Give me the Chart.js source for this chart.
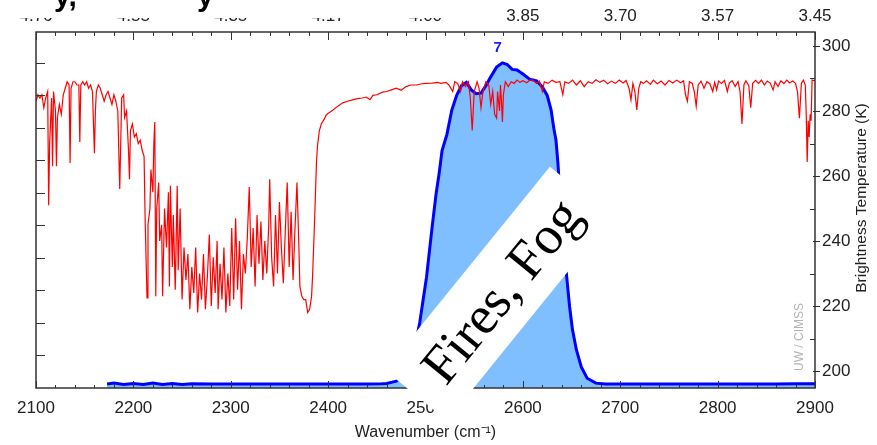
<!DOCTYPE html>
<html>
<head>
<meta charset="utf-8">
<script src="https://cdn.jsdelivr.net/npm/chart.js@4.4.0/dist/chart.umd.min.js"></script>
<style>
    html, body { margin: 0; padding: 0; background: #fff; }
</style>
</head>
<body>
<canvas id="myChart" width="877" height="445"></canvas>
<script>
// wavenumber ticks (bottom) and matching wavelength labels (top, micrometres)
const wavenumberTicks = [2100, 2200, 2300, 2400, 2500, 2600, 2700, 2800, 2900];
const wavelengthLabels = ['4.76', '4.55', '4.35', '4.17', '4.00', '3.85', '3.70', '3.57', '3.45'];
const temperatureTicks = [200, 220, 240, 260, 280, 300];

// brightness temperature spectrum (red)
const tbWavenumber = [
    2100, 2102, 2104, 2106, 2108, 2110, 2112, 2113, 2114, 2116, 2117, 2118, 2120, 2121, 2122, 2124, 2126, 2128, 2130, 2132,
    2134, 2135, 2136, 2138, 2140, 2142, 2144, 2145, 2146, 2148, 2150, 2152, 2154, 2156, 2158, 2160, 2161, 2162, 2164, 2166,
    2168, 2170, 2172, 2174, 2176, 2178, 2180, 2182, 2184, 2186, 2187, 2188, 2190, 2191, 2193, 2195, 2196, 2197, 2199, 2201,
    2203, 2205, 2207, 2209, 2211, 2212, 2213, 2214, 2215, 2217, 2218, 2220, 2221, 2222, 2223, 2224, 2226, 2227, 2229, 2230,
    2232, 2234, 2236, 2237, 2238, 2240, 2241, 2243, 2245, 2246, 2248, 2250, 2252, 2254, 2256, 2258, 2260, 2262, 2264, 2266,
    2268, 2270, 2272, 2274, 2276, 2278, 2280, 2282, 2284, 2286, 2287, 2289, 2291, 2293, 2295, 2297, 2299, 2301, 2303, 2305,
    2307, 2309, 2311, 2313, 2315, 2317, 2319, 2321, 2323, 2325, 2327, 2329, 2331, 2333, 2335, 2337, 2339, 2340, 2342, 2344,
    2346, 2348, 2350, 2352, 2354, 2356, 2358, 2360, 2362, 2364, 2366, 2368, 2370, 2371, 2373, 2375, 2377, 2379, 2381, 2383,
    2384, 2386, 2388, 2389, 2391, 2393, 2396, 2398, 2401, 2405, 2410, 2415, 2420, 2425, 2430, 2435, 2439, 2443, 2446, 2450,
    2456, 2460, 2465, 2470, 2475, 2480, 2485, 2491, 2495, 2500, 2507, 2512, 2516, 2521, 2524, 2528, 2530, 2533, 2536, 2538,
    2541, 2544, 2546, 2548, 2550, 2553, 2555, 2557, 2559, 2562, 2565, 2567, 2569, 2571, 2573, 2574, 2576, 2577, 2578, 2579,
    2580, 2582, 2585, 2588, 2591, 2594, 2597, 2600, 2604, 2607, 2610, 2614, 2617, 2620, 2622, 2626, 2630, 2634, 2638, 2641,
    2643, 2647, 2651, 2655, 2659, 2663, 2667, 2671, 2675, 2679, 2683, 2687, 2691, 2695, 2699, 2703, 2706, 2709, 2711, 2713,
    2715, 2717, 2719, 2721, 2724, 2727, 2731, 2734, 2738, 2742, 2746, 2750, 2754, 2758, 2762, 2765, 2767, 2769, 2771, 2774,
    2776, 2778, 2780, 2783, 2786, 2789, 2792, 2795, 2797, 2799, 2801, 2804, 2807, 2810, 2812, 2815, 2818, 2821, 2823, 2825,
    2827, 2829, 2832, 2834, 2836, 2839, 2842, 2845, 2848, 2851, 2854, 2857, 2859, 2862, 2865, 2868, 2871, 2874, 2877, 2880,
    2882, 2884, 2886, 2888, 2890, 2891, 2892, 2893, 2894, 2895, 2896, 2897, 2900
];
const tbKelvin = [
    283, 285, 284, 285, 281, 284, 286, 251, 270, 284, 263, 286, 280, 263, 278, 282, 279, 285, 287, 289,
    288, 264, 287, 289, 289, 288, 288, 270.5, 288, 289, 288, 289, 287, 288, 286, 267, 280, 286, 288, 287,
    285, 283, 285, 286, 284, 282, 285, 283, 280, 256, 270, 284, 285, 278, 280, 268, 259, 274, 276, 272,
    273, 270, 271, 268, 266, 248, 235, 222.5, 245, 250, 262, 255, 270, 276.6, 223, 250, 258, 240, 245, 223,
    250, 238, 255, 226, 257, 232, 248, 225, 257, 231, 250, 222, 238, 228, 236, 219, 232, 224, 238, 218,
    230, 222, 236, 219, 229, 242, 220, 235, 224, 240, 219, 233, 222, 238, 218, 230, 220, 244, 222, 247,
    225, 240, 219, 236, 230, 241, 256.6, 232, 244, 226, 248, 233, 246, 228, 240, 230, 245, 259, 235, 226,
    248, 230, 252, 238, 227, 243, 258, 232, 249, 228, 244, 258, 238, 226, 223, 222, 222, 218, 219, 223,
    229, 245.5, 264, 269, 274, 276, 277.5, 278.8, 279.5, 280.3, 281.5, 282.5, 283, 283.4, 283.8, 284, 284.3, 283.5, 284.8, 285,
    285.8, 286, 286.5, 287, 286.4, 287.5, 288, 288, 288.3, 288.5, 288.6, 288.8, 288.5, 288.8, 288, 286, 289, 288.5, 286, 289,
    287.5, 289, 284, 274, 286, 289, 287, 281, 286, 289, 288, 282, 286, 279, 277.8, 286, 280, 288, 283, 276.6,
    285, 289, 287.5, 289, 288.5, 289.5, 288.8, 289.3, 288.7, 289.5, 289.5, 288.5, 289.2, 286, 289, 288.5, 289.5, 288.8, 289, 285,
    289, 288.5, 289.5, 288, 289.3, 287.5, 289, 288.5, 289.6, 288.8, 289.5, 288.4, 289.2, 288.5, 289.5, 288.6, 289.4, 287, 283.4, 288.5,
    286, 280.3, 287, 289, 288.5, 289.3, 288.2, 289.5, 288.4, 289.2, 288, 289.4, 288.6, 289.5, 288.7, 289.3, 285, 283, 289, 288.5,
    286, 281.5, 288, 289.2, 287, 289, 288.4, 286, 288.8, 286.5, 289.2, 288.5, 289.4, 286, 288.6, 289.3, 287.5, 289, 286, 276,
    288, 289.3, 287.8, 281, 288.5, 289.4, 288.5, 289.5, 288, 289.2, 288.6, 286.5, 289, 287.5, 289.3, 288.4, 289.5, 288.6, 289.2, 288.5,
    286, 277.8, 288.5, 289.5, 288, 279, 264.3, 277, 272, 279, 277, 289.5, 289.3
];

// band 7 spectral response function (blue, relative)
const srfWavenumber = [
    2173, 2180, 2190, 2200, 2210, 2220, 2230, 2240, 2250, 2260, 2280, 2300, 2320, 2340, 2360, 2380, 2400, 2420, 2440, 2455,
    2460, 2466, 2470, 2474, 2476, 2480, 2485, 2490, 2494, 2497, 2501, 2504, 2507, 2511, 2514, 2517, 2522, 2527, 2532, 2537,
    2542, 2547, 2552, 2557, 2562, 2567, 2573, 2579, 2584, 2589, 2594, 2600, 2607, 2614, 2620, 2625, 2629, 2632, 2634, 2636,
    2640, 2645, 2648, 2651, 2655, 2660, 2666, 2675, 2685, 2700, 2720, 2740, 2760, 2780, 2800, 2820, 2840, 2860, 2880, 2900
];
const srfResponse = [
    0.012, 0.015, 0.011, 0.014, 0.011, 0.015, 0.011, 0.014, 0.011, 0.013, 0.012, 0.012, 0.012, 0.012, 0.012, 0.012, 0.012, 0.012, 0.012, 0.013,
    0.014, 0.018, 0.021, 0.03, 0.034, 0.05, 0.09, 0.14, 0.2, 0.26, 0.34, 0.42, 0.5, 0.6, 0.66, 0.73, 0.78, 0.855, 0.9, 0.93,
    0.94, 0.917, 0.905, 0.907, 0.93, 0.957, 0.987, 1.0, 0.995, 0.98, 0.978, 0.966, 0.95, 0.945, 0.926, 0.9, 0.855, 0.794, 0.763, 0.692,
    0.5, 0.342, 0.25, 0.178, 0.117, 0.065, 0.03, 0.015, 0.012, 0.012, 0.012, 0.012, 0.012, 0.012, 0.012, 0.012, 0.012, 0.012, 0.013, 0.013
];

const FONT = '"Liberation Sans", Arial, sans-serif';

const decorations = {
    id: 'decorations',
    afterDraw(chart) {
        const ctx = chart.ctx;
        const xs = chart.scales.x;
        const ys = chart.scales.y;
        const yt = chart.scales.yT;
        const { left, right, top, bottom } = chart.chartArea;

        ctx.save();
        ctx.strokeStyle = '#333';
        ctx.lineWidth = 1;
        ctx.beginPath();
        // wavenumber ticks, inward on top and bottom
        for (let w = 2100; w <= 2900; w += 20) {
            const px = Math.round(xs.getPixelForValue(w)) + 0.5;
            const major = w % 100 === 0;
            ctx.moveTo(px, bottom); ctx.lineTo(px, bottom - (major ? 7 : 3));
            ctx.moveTo(px, top); ctx.lineTo(px, top + (major ? 8 : 4));
        }
        // response ticks on the left
        for (let r = 0.1; r <= 1.01; r += 0.1) {
            const py = Math.round(ys.getPixelForValue(r)) + 0.5;
            ctx.moveTo(left, py); ctx.lineTo(left + 9, py);
        }
        // temperature ticks on the right
        for (let t = 200; t <= 300; t += 10) {
            const py = Math.round(yt.getPixelForValue(t)) + 0.5;
            if (t % 20 === 0) { ctx.moveTo(right - 2, py); ctx.lineTo(right + 5, py); }
            else { ctx.moveTo(right - 5, py); ctx.lineTo(right, py); }
        }
        ctx.stroke();

        // frame
        ctx.lineWidth = 1.5;
        ctx.strokeRect(left, top, right - left, bottom - top);

        // channel number over the peak
        ctx.fillStyle = '#1a1aff';
        ctx.font = 'bold 15px ' + FONT;
        ctx.textAlign = 'center';
        ctx.textBaseline = 'middle';
        ctx.fillText('7', xs.getPixelForValue(2574), yt.getPixelForValue(299.4));

        // diagonal label band
        ctx.save();
        ctx.translate(xs.getPixelForValue(2575), yt.getPixelForValue(223.8));
        ctx.rotate(-51 * Math.PI / 180);
        ctx.fillStyle = '#fff';
        ctx.fillRect(-131, -40, 262, 80);
        ctx.fillStyle = '#000';
        ctx.font = '54px "Liberation Serif", "Times New Roman", serif';
        ctx.textAlign = 'center';
        ctx.textBaseline = 'alphabetic';
        ctx.fillText('Fires, Fog', 4, 18);
        ctx.restore();

        // credit
        ctx.save();
        ctx.translate(800, 337);
        ctx.rotate(-Math.PI / 2);
        ctx.fillStyle = '#b4b4b4';
        ctx.font = '12px ' + FONT;
        ctx.textAlign = 'center';
        ctx.textBaseline = 'middle';
        ctx.fillText('UW / CIMSS', 0, 0);
        ctx.restore();

        // right axis title, reading upward
        ctx.save();
        ctx.translate(862, 198);
        ctx.rotate(-Math.PI / 2);
        ctx.fillStyle = '#222';
        ctx.font = '15.5px ' + FONT;
        ctx.textAlign = 'center';
        ctx.textBaseline = 'middle';
        ctx.fillText('Brightness Temperature (K)', 0, 0);
        ctx.restore();

        // cropped title strip at the very top
        ctx.fillStyle = '#fff';
        ctx.fillRect(0, 0, 480, 18);
        ctx.fillStyle = '#000';
        ctx.font = 'bold 30px ' + FONT;
        ctx.textAlign = 'left';
        ctx.textBaseline = 'alphabetic';
        ctx.fillText('y,', 54, 6);
        ctx.fillText('y', 197, 6);
        ctx.restore();
    }
};

const ctx = document.getElementById('myChart').getContext('2d');
const myChart = new Chart(ctx, {
    type: 'line',
    data: {
        datasets: [
            {
                label: 'Brightness temperature',
                data: tbWavenumber.map((w, i) => ({ x: w, y: tbKelvin[i] })),
                yAxisID: 'yT',
                borderColor: '#ff0000',
                borderWidth: 1.2,
                pointRadius: 0,
                tension: 0,
                fill: false,
                order: 0
            },
            {
                label: 'Band 7 SRF',
                data: srfWavenumber.map((w, i) => ({ x: w, y: srfResponse[i] })),
                yAxisID: 'y',
                borderColor: '#0000ff',
                backgroundColor: '#80bfff',
                borderWidth: 3,
                pointRadius: 0,
                tension: 0,
                fill: 'origin',
                order: 1
            }
        ]
    },
    options: {
        responsive: false,
        animation: false,
        events: [],
        layout: { padding: 0 },
        plugins: {
            legend: { display: false },
            tooltip: { enabled: false }
        },
        scales: {
            x: {
                type: 'linear',
                position: 'bottom',
                min: 2100,
                max: 2900,
                afterBuildTicks: (scale) => { scale.ticks = wavenumberTicks.map(v => ({ value: v })); },
                afterFit: (scale) => { scale.height = 57; },
                ticks: {
                    color: '#222',
                    padding: 10,
                    maxRotation: 0,
                    font: { family: FONT, size: 17 },
                    callback: (value) => String(value)
                },
                grid: { display: false, drawTicks: false },
                border: { display: false },
                title: {
                    display: true,
                    text: 'Wavenumber (cm⁻¹)',
                    color: '#222',
                    font: { family: FONT, size: 16 },
                    padding: { top: 0, bottom: 3 }
                }
            },
            xTop: {
                type: 'linear',
                position: 'top',
                min: 2100,
                max: 2900,
                afterBuildTicks: (scale) => { scale.ticks = wavenumberTicks.map(v => ({ value: v })); },
                afterFit: (scale) => { scale.height = 32; },
                ticks: {
                    color: '#222',
                    padding: 5,
                    maxRotation: 0,
                    font: { family: FONT, size: 17 },
                    callback: (value, index) => wavelengthLabels[index]
                },
                grid: { display: false, drawTicks: false },
                border: { display: false }
            },
            y: {
                type: 'linear',
                position: 'left',
                min: 0,
                max: 1.095,
                afterFit: (scale) => { scale.width = 36; },
                ticks: { display: false },
                grid: { display: false, drawTicks: false },
                border: { display: false }
            },
            yT: {
                type: 'linear',
                position: 'right',
                min: 194.8,
                max: 304.3,
                afterBuildTicks: (scale) => { scale.ticks = temperatureTicks.map(v => ({ value: v })); },
                afterFit: (scale) => { scale.width = 62; },
                ticks: { color: '#222', padding: 7, font: { family: FONT, size: 17 } },
                grid: { display: false, drawTicks: false },
                border: { display: false }
            }
        }
    },
    plugins: [decorations]
});
</script>
</body>
</html>
